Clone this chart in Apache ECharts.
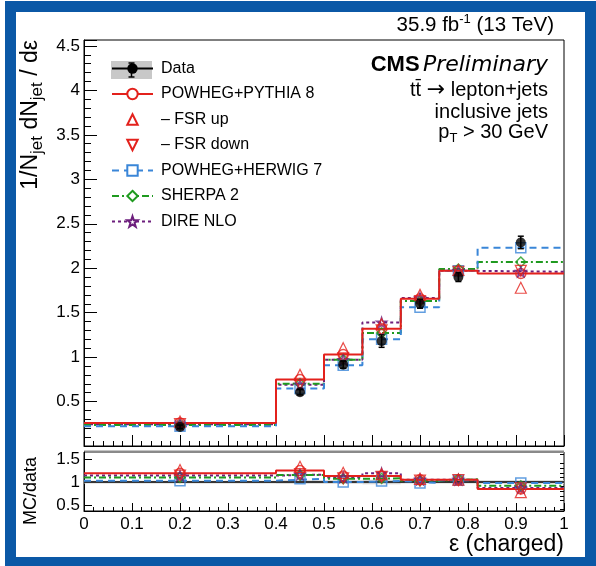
<!DOCTYPE html>
<html>
<head>
<meta charset="utf-8">
<script src="https://cdn.jsdelivr.net/npm/echarts@6/dist/echarts.min.js"></script>
<style>
html,body{margin:0;padding:0;background:#fff;}
#c{width:596px;height:566px;}
</style>
</head>
<body>
<div id="c"></div>
<script>
// ---- data ----
const binEdges   = [0, 0.4, 0.5, 0.58, 0.66, 0.74, 0.82, 1.0];
const binCenters = [0.2, 0.45, 0.54, 0.62, 0.70, 0.78, 0.91];
const dataVals   = [0.215, 0.605, 0.915, 1.18, 1.60, 1.90, 2.29];
const dataErr    = [0.02, 0.03, 0.04, 0.07, 0.05, 0.05, 0.07];
const pythia     = [0.26, 0.747, 1.028, 1.32, 1.657, 1.97, 1.94];
const fsrUp      = [0.275, 0.80, 1.10, 1.37, 1.70, 1.98, 1.78];
const fsrDown    = [0.245, 0.70, 0.985, 1.30, 1.63, 1.96, 1.97];
const herwig     = [0.222, 0.646, 0.908, 1.20, 1.56, 1.97, 2.23];
const sherpa     = [0.235, 0.70, 0.97, 1.27, 1.63, 1.99, 2.07];
const dire       = [0.245, 0.69, 0.97, 1.39, 1.665, 1.97, 1.96];

const ratioPythia  = [1.19, 1.25, 1.13, 1.13, 1.05, 1.05, 0.85];
const ratioFsrUp   = [1.26, 1.33, 1.20, 1.17, 1.07, 1.05, 0.78];
const ratioFsrDown = [1.14, 1.17, 1.08, 1.11, 1.03, 1.04, 0.86];
const ratioHerwig  = [1.03, 1.07, 1.00, 1.02, 0.98, 1.04, 0.98];
const ratioSherpa  = [1.10, 1.15, 1.07, 1.08, 1.03, 1.06, 0.92];
const ratioDire    = [1.14, 1.16, 1.10, 1.19, 1.05, 1.05, 0.87];
const ratioBand    = [0.03, 0.04, 0.04, 0.05, 0.03, 0.03, 0.04];

const mainTicks  = [0.5, 1, 1.5, 2, 2.5, 3, 3.5, 4, 4.5];
const ratioTicks = [0.5, 1, 1.5];
const ratioMinorTicks = [0.4, 0.6, 0.7, 0.8, 0.9, 1.1, 1.2, 1.3, 1.4, 1.6];

// ---- styles ----
const FONT = '"Liberation Sans", Arial, Helvetica, sans-serif';
const RED = '#e3211c', BLUE = '#3a86d8', GREEN = '#1f9a1f', PURPLE = '#6d1f7d';
const FRAME = '#0b58a6';
const STAR = 'path://M0,-10L2.35,-3.24L9.51,-3.09L3.8,1.24L5.88,8.09L0,4.2L-5.88,8.09L-3.8,1.24L-9.51,-3.09L-2.35,-3.24Z';

const models = [
  {name: 'POWHEG+PYTHIA 8', main: pythia, ratio: ratioPythia, color: RED, type: 'solid', symbol: 'circle'},
  {name: 'POWHEG+HERWIG 7', main: herwig, ratio: ratioHerwig, color: BLUE, type: [7, 5], symbol: 'rect'},
  {name: 'SHERPA 2', main: sherpa, ratio: ratioSherpa, color: GREEN, type: [7, 3, 2, 3], symbol: 'diamond'},
  {name: 'DIRE NLO', main: dire, ratio: ratioDire, color: PURPLE, type: [3, 3], symbol: STAR}
];
const variations = [
  {name: '\u2013 FSR up', main: fsrUp, ratio: ratioFsrUp, color: RED, symbol: 'triangle', rot: 0},
  {name: '\u2013 FSR down', main: fsrDown, ratio: ratioFsrDown, color: RED, symbol: 'triangle', rot: 180}
];

function stepData(vals) {
  return binEdges.map((e, i) => [e, vals[Math.min(i, vals.length - 1)]]);
}
function pts(vals) {
  return binCenters.map((c, i) => [c, vals[i]]);
}

const series = [];

// legend-only Data entry
series.push({
  name: 'Data', type: 'line', xAxisIndex: 0, yAxisIndex: 0, data: [],
  symbol: 'circle', showSymbol: false,
  itemStyle: {color: '#000'}, lineStyle: {color: '#000', width: 1.5}
});

models.forEach((m, k) => {
  [0, 1].forEach(panel => {
    const vals = panel === 0 ? m.main : m.ratio;
    series.push({
      name: panel === 0 ? m.name : m.name + ' ratio',
      type: 'line', step: 'end', xAxisIndex: panel * 2, yAxisIndex: panel === 0 ? 0 : 2,
      data: stepData(vals), showSymbol: false, symbol: m.symbol, symbolSize: 10,
      itemStyle: {color: '#fff', borderColor: m.color, borderWidth: 1.5},
      lineStyle: {color: m.color, width: 2, type: m.type},
      z: 3 + (3 - k) * 0.1, silent: true, animation: false
    });
    series.push({
      name: m.name + (panel === 0 ? ' pts' : ' rpts'),
      type: 'scatter', xAxisIndex: panel * 2, yAxisIndex: panel === 0 ? 0 : 2,
      data: pts(vals), symbol: m.symbol, symbolSize: 10,
      itemStyle: {color: 'rgba(0,0,0,0)', borderColor: m.color, borderWidth: 1.5},
      z: 5, silent: true, animation: false
    });
  });
});

variations.forEach(v => {
  // legend-only entry (symbol only)
  series.push({
    name: v.name, type: 'line', xAxisIndex: 0, yAxisIndex: 0, data: [],
    symbol: v.symbol, symbolRotate: v.rot, showSymbol: false,
    itemStyle: {color: '#fff', borderColor: v.color, borderWidth: 1.2},
    lineStyle: {color: 'rgba(0,0,0,0)', width: 0, opacity: 0}
  });
  [0, 1].forEach(panel => {
    series.push({
      name: v.name + (panel === 0 ? ' pts' : ' rpts'),
      type: 'scatter', xAxisIndex: panel * 2, yAxisIndex: panel === 0 ? 0 : 2,
      data: pts(panel === 0 ? v.main : v.ratio), symbol: v.symbol, symbolSize: 11, symbolRotate: v.rot,
      itemStyle: {color: 'rgba(255,255,255,0)', borderColor: v.color, borderWidth: 1.2},
      z: 5, silent: true, animation: false
    });
  });
});

// ratio band for data uncertainty
series.push({
  name: 'band', type: 'custom', xAxisIndex: 2, yAxisIndex: 2, z: 1, silent: true,
  data: ratioBand.map((b, i) => [binEdges[i], binEdges[i + 1], 1 - b, 1 + b]),
  renderItem: (params, api) => {
    const p0 = api.coord([api.value(0), api.value(3)]);
    const p1 = api.coord([api.value(1), api.value(2)]);
    return {type: 'rect', shape: {x: p0[0], y: p0[1], width: p1[0] - p0[0], height: p1[1] - p0[1]},
            style: {fill: '#d4d4d4'}};
  }
});
// data ratio reference line
series.push({
  name: 'Data ratio', type: 'line', xAxisIndex: 2, yAxisIndex: 2, z: 2, silent: true,
  data: [[binEdges[0], 1], [binEdges[binEdges.length - 1], 1]], showSymbol: false,
  lineStyle: {color: '#000', width: 1.5}
});

// data error bars + points
series.push({
  name: 'Data err', type: 'custom', xAxisIndex: 0, yAxisIndex: 0, z: 8, silent: true,
  data: binCenters.map((c, i) => [c, dataVals[i] - dataErr[i], dataVals[i] + dataErr[i]]),
  renderItem: (params, api) => {
    const lo = api.coord([api.value(0), api.value(1)]);
    const hi = api.coord([api.value(0), api.value(2)]);
    const st = {stroke: '#000', lineWidth: 1.5};
    return {type: 'group', children: [
      {type: 'line', shape: {x1: lo[0], y1: lo[1], x2: hi[0], y2: hi[1]}, style: st},
      {type: 'line', shape: {x1: lo[0] - 3, y1: lo[1], x2: lo[0] + 3, y2: lo[1]}, style: st},
      {type: 'line', shape: {x1: hi[0] - 3, y1: hi[1], x2: hi[0] + 3, y2: hi[1]}, style: st}
    ]};
  }
});
series.push({
  name: 'Data pts', type: 'scatter', xAxisIndex: 0, yAxisIndex: 0, z: 9, silent: true,
  data: pts(dataVals), symbol: 'circle', symbolSize: 10, itemStyle: {color: '#000'}
});

const axLine = {show: true, lineStyle: {color: '#000', width: 1}};
const lab = {color: '#000', fontFamily: FONT, fontSize: 17};

const option = {
  animation: false,
  backgroundColor: '#fff',
  textStyle: {fontFamily: FONT},
  grid: [
    {left: 84, right: 32, top: 40, height: 406, show: true, borderColor: '#000', borderWidth: 1, backgroundColor: 'transparent'},
    {left: 84, right: 32, top: 452, height: 59, show: true, borderColor: '#000', borderWidth: 1, backgroundColor: 'transparent'}
  ],
  xAxis: [
    {gridIndex: 0, type: 'value', min: 0, max: 1, interval: 0.1, position: 'bottom',
     axisLine: axLine, axisLabel: {show: false}, splitLine: {show: false},
     axisTick: {inside: true, length: 11, lineStyle: {color: '#000'}},
     minorTick: {show: true, splitNumber: 5, length: 5, lineStyle: {color: '#000'}}},
    {gridIndex: 0, type: 'value', min: 0, max: 1, interval: 0.1, position: 'top', show: false},
    {gridIndex: 1, type: 'value', min: 0, max: 1, interval: 0.1, position: 'bottom',
     axisLine: axLine, splitLine: {show: false},
     axisLabel: Object.assign({margin: 5, formatter: v => (v === 0 || v === 1) ? String(v) : v.toFixed(1)}, lab),
     axisTick: {inside: true, length: 8, lineStyle: {color: '#000'}},
     minorTick: {show: true, splitNumber: 5, length: 4, lineStyle: {color: '#000'}},
     name: '\u03b5 (charged)', nameLocation: 'end', nameGap: 0,
     nameTextStyle: {color: '#000', fontFamily: FONT, fontSize: 23, align: 'right', verticalAlign: 'top', padding: [22, 0, 0, 0]}}
  ],
  yAxis: [
    {gridIndex: 0, type: 'value', min: 0, max: 4.567, interval: 0.5,
     axisLine: axLine, splitLine: {show: false},
     axisLabel: Object.assign({showMinLabel: false, showMaxLabel: false, margin: 4,
       formatter: v => mainTicks.indexOf(v) >= 0 ? String(v) : ''}, lab),
     axisTick: {inside: true, length: 13, lineStyle: {color: '#000'}},
     minorTick: {show: true, splitNumber: 5, length: 7, lineStyle: {color: '#000'}}},
    {gridIndex: 0, type: 'value', min: 0, max: 4.567, position: 'right', show: false},
    {gridIndex: 1, type: 'value', min: 0.37, max: 1.652,
     axisLine: axLine, splitLine: {show: false},
     axisLabel: Object.assign({customValues: ratioTicks, margin: 4, formatter: v => String(v)}, lab),
     axisTick: {inside: true, length: 8, customValues: ratioTicks, lineStyle: {color: '#000'}}},
    {gridIndex: 1, type: 'value', min: 0.37, max: 1.652,
     axisLine: {show: false}, splitLine: {show: false}, axisLabel: {show: false},
     axisTick: {inside: true, length: 4, customValues: ratioMinorTicks, lineStyle: {color: '#000'}}}
  ],
  legend: {
    left: 106, top: 55.5, orient: 'vertical', itemWidth: 41, itemHeight: 13, itemGap: 9.5,
    selectedMode: false,
    textStyle: {color: '#000', fontFamily: FONT, fontSize: 16, padding: [0, 0, 0, 3]},
    data: ['Data', 'POWHEG+PYTHIA 8', '\u2013 FSR up', '\u2013 FSR down', 'POWHEG+HERWIG 7', 'SHERPA 2', 'DIRE NLO']
  },
  graphic: [
    // blue outer frame
    {type: 'rect', z: 0, shape: {x: 5, y: 1, width: 11, height: 565}, style: {fill: FRAME}},
    {type: 'rect', z: 0, shape: {x: 585, y: 1, width: 11, height: 565}, style: {fill: FRAME}},
    {type: 'rect', z: 0, shape: {x: 5, y: 1, width: 591, height: 11}, style: {fill: FRAME}},
    {type: 'rect', z: 0, shape: {x: 5, y: 557, width: 591, height: 9}, style: {fill: FRAME}},
    // gray top edge of the ratio pad
    {type: 'rect', z: 0, shape: {x: 84, y: 450.5, width: 480, height: 2.5}, style: {fill: '#8a8a8a'}},
    // data legend uncertainty box + error bar
    {type: 'rect', z: 0, shape: {x: 111, y: 61, width: 41, height: 18}, style: {fill: '#c8c8c8'}},
    {type: 'group', z: 10, children: [
      {type: 'line', shape: {x1: 131.5, y1: 63, x2: 131.5, y2: 77}, style: {stroke: '#000', lineWidth: 1.5}},
      {type: 'line', shape: {x1: 128.5, y1: 63, x2: 134.5, y2: 63}, style: {stroke: '#000', lineWidth: 1.5}},
      {type: 'line', shape: {x1: 128.5, y1: 77, x2: 134.5, y2: 77}, style: {stroke: '#000', lineWidth: 1.5}}
    ]},
    {type: 'text', x: 554, y: 25, style: {text: '{a|35.9 fb}{s|-1}{a| (13 TeV)}', align: 'right', verticalAlign: 'middle',
      rich: {a: {fontFamily: FONT, fontSize: 20.5, lineHeight: 24, fill: '#000'}, s: {fontFamily: FONT, fontSize: 13, lineHeight: 24, verticalAlign: 'top', fill: '#000'}}}},
    {type: 'text', x: 548, y: 65, style: {text: '{b|CMS} {i|Preliminary}', align: 'right', verticalAlign: 'middle',
      rich: {b: {fontFamily: FONT, fontSize: 22, fontWeight: 'bold', fill: '#000'},
             i: {fontFamily: '"DejaVu Sans", ' + FONT, fontSize: 22, fontStyle: 'italic', fill: '#000'}}}},
    {type: 'text', x: 548, y: 90, style: {text: '{a|tt\u0304 }{r|\u2192}{a| lepton+jets}', align: 'right', verticalAlign: 'middle',
      rich: {a: {fontFamily: FONT, fontSize: 20, fill: '#000'}, r: {fontFamily: '"DejaVu Sans"', fontSize: 22, fill: '#000'}}}},
    {type: 'text', x: 548, y: 112, style: {text: 'inclusive jets', align: 'right', verticalAlign: 'middle', font: '20px ' + FONT, fill: '#000'}},
    {type: 'text', x: 548, y: 132, style: {text: '{a|p}{s|T}{a| > 30 GeV}', align: 'right', verticalAlign: 'middle',
      rich: {a: {fontFamily: FONT, fontSize: 20, lineHeight: 26, fill: '#000'}, s: {fontFamily: FONT, fontSize: 13, lineHeight: 26, verticalAlign: 'bottom', fill: '#000'}}}},
    {type: 'text', x: 31, y: 40, rotation: Math.PI / 2, style: {text: '{a|1/N}{s|jet}{a| dN}{s|jet}{a| / d\u03b5}', align: 'right', verticalAlign: 'middle',
      rich: {a: {fontFamily: FONT, fontSize: 23, lineHeight: 30, fill: '#000'}, s: {fontFamily: FONT, fontSize: 17, lineHeight: 30, verticalAlign: 'bottom', fill: '#000'}}}},
    {type: 'text', x: 31, y: 491, rotation: Math.PI / 2, style: {text: 'MC/data', align: 'center', verticalAlign: 'middle', font: '18px ' + FONT, fill: '#000'}}
  ],
  series: series
};

const chart = echarts.init(document.getElementById('c'), null, {renderer: 'canvas'});
chart.setOption(option);
</script>
</body>
</html>
